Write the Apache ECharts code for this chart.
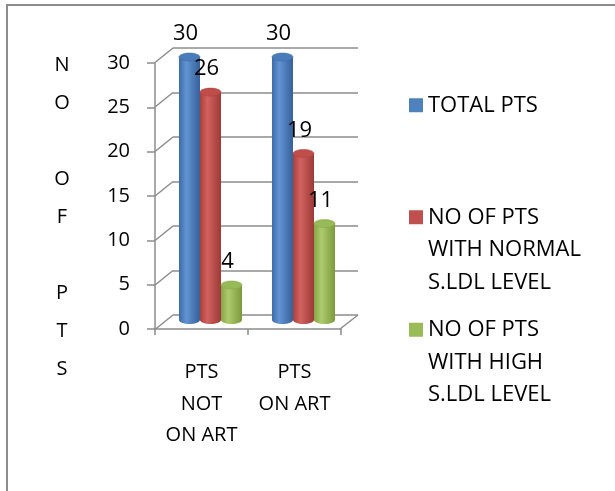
<!DOCTYPE html>
<html>
<head>
<meta charset="utf-8">
<script src="https://cdn.jsdelivr.net/npm/echarts@6/dist/echarts.min.js"></script>
<style>
  html, body { margin: 0; padding: 0; background: #fff; }
  #chart { width: 615px; height: 491px; }
</style>
</head>
<body>
<div id="chart"></div>
<script>
// data
const categories = ['PTS\nNOT\nON ART', 'PTS\nON ART'];
const seriesNames = ['TOTAL PTS', 'NO OF PTS\nWITH NORMAL\nS.LDL LEVEL', 'NO OF PTS\nWITH HIGH\nS.LDL LEVEL'];
const totalPts = [30, 30];
const normalLdl = [26, 19];
const highLdl = [4, 11];
const yTicks = [0, 5, 10, 15, 20, 25, 30];
const yTitle = ['N', 'O', '', 'O', 'F', '', 'P', 'T', 'S'];

const FONT = '"Open Sans", "Liberation Sans", sans-serif';
const WALL = '#8c8c8c';

const palettes = [
  { base: '#4f81bd', edge: '#3d6ba6', light: '#6393d2', dark: '#35609a', top: '#4a7cba' },
  { base: '#c0504d', edge: '#a8403d', light: '#d2625f', dark: '#9c3a37', top: '#bf4e4b' },
  { base: '#9bbb59', edge: '#86a548', light: '#aecb6c', dark: '#7a9a3c', top: '#98b957' }
];

// fake 3d cylinder, positioned from the bar grid scale
function cylinder(idx) {
  const pal = palettes[idx];
  return function (params, api) {
    const cat = api.value(0);
    const val = api.value(1);
    const top = api.coord([cat, val]);
    const base = api.coord([cat, 0]);
    const band = api.size([1, 0])[0];
    const w = band * 0.226;
    const cx = top[0] + (idx - 1) * w;
    const ry = 4;
    const grad = new echarts.graphic.LinearGradient(0, 0, 1, 0, [
      { offset: 0, color: pal.edge },
      { offset: 0.35, color: pal.light },
      { offset: 1, color: pal.dark }
    ]);
    return {
      type: 'group',
      children: [
        { type: 'ellipse', shape: { cx: cx, cy: base[1], rx: w / 2, ry: ry }, style: { fill: grad } },
        { type: 'rect', shape: { x: cx - w / 2, y: top[1], width: w, height: base[1] - top[1] }, style: { fill: grad } },
        { type: 'ellipse', shape: { cx: cx, cy: top[1], rx: w / 2, ry: ry }, style: { fill: pal.top, stroke: pal.edge, lineWidth: 0.5 } },
        {
          type: 'text', x: cx - 4, y: top[1] - 23,
          style: { text: String(val), fontSize: 22, fontFamily: FONT, fill: '#000', align: 'center', verticalAlign: 'middle' }
        }
      ]
    };
  };
}

// diagonal edges of the side wall and floor
function wallEdges(params, api) {
  const v = api.value(1);
  const p = api.coord([0, v]);
  const children = [
    { type: 'line', shape: { x1: p[0], y1: p[1], x2: p[0] - 18, y2: p[1] + 14.5 }, style: { stroke: WALL, lineWidth: 1.5 } }
  ];
  if (v === 0) {
    const q = api.coord([1, 0]);
    children.push({ type: 'line', shape: { x1: q[0], y1: q[1], x2: q[0] - 18, y2: q[1] + 14 }, style: { stroke: WALL, lineWidth: 1.5 } });
  }
  return { type: 'group', children: children };
}

// legend text is centred on the icon, so pad multi-line names with blank lines above
function legendFor(i, top) {
  return {
    data: [seriesNames[i]],
    orient: 'vertical',
    left: 409,
    top: top,
    padding: 0,
    icon: 'rect',
    itemWidth: 14,
    itemHeight: 14,
    selectedMode: false,
    formatter: function (name) {
      const n = name.split('\n').length;
      return '\n'.repeat(n - 1) + name;
    },
    textStyle: { fontSize: 22, fontFamily: FONT, color: '#000', lineHeight: 32.5 }
  };
}

const seriesData = [totalPts, normalLdl, highLdl];

const option = {
  animation: false,
  backgroundColor: '#fff',
  legend: [legendFor(0, 89), legendFor(1, 136), legendFor(2, 248.5)],
  grid: [
    { left: 155, top: 63, width: 186, height: 266, outerBoundsMode: 'none' },
    { left: 173, top: 48, width: 185, height: 267, outerBoundsMode: 'none' },
    { left: 164, top: 57, width: 186, height: 263, outerBoundsMode: 'none' }
  ],
  xAxis: [
    {
      gridIndex: 0, type: 'category', data: categories,
      axisLine: { show: true, lineStyle: { color: WALL, width: 1.5 } },
      axisTick: { show: true, length: 6, lineStyle: { color: WALL, width: 1.5 } },
      axisLabel: { margin: 28, fontSize: 20, lineHeight: 31.5, color: '#000', fontFamily: FONT, interval: 0 }
    },
    { gridIndex: 1, type: 'value', min: 0, max: 1, show: false },
    { gridIndex: 2, type: 'category', data: categories, show: false }
  ],
  yAxis: [
    {
      gridIndex: 0, type: 'value', min: 0, max: 30, interval: 5,
      splitLine: { show: false },
      axisLine: { show: true, lineStyle: { color: WALL, width: 1.5 } },
      axisTick: { show: true, length: 8, lineStyle: { color: WALL, width: 1.5 } },
      axisLabel: { margin: 25, fontSize: 20, color: '#000', fontFamily: FONT }
    },
    {
      gridIndex: 1, type: 'value', min: 0, max: 30, interval: 5,
      splitLine: { show: true, lineStyle: { color: WALL, width: 1.5 } },
      axisLine: { show: false }, axisTick: { show: false }, axisLabel: { show: false }
    },
    { gridIndex: 2, type: 'value', min: 0, max: 30, show: false }
  ],
  graphic: [
    {
      type: 'rect', silent: true,
      shape: { x: 7, y: 5, width: 700, height: 600 },
      style: { fill: 'none', stroke: '#8c8c8c', lineWidth: 2 }
    },
    {
      type: 'text', x: 62, y: 46, silent: true,
      style: {
        text: yTitle.join('\n'), fontSize: 20, fontFamily: FONT, fill: '#000',
        lineHeight: 38, align: 'center', verticalAlign: 'top'
      }
    }
  ],
  series: [
    {
      type: 'custom', xAxisIndex: 1, yAxisIndex: 1, silent: true, z: 1,
      data: yTicks.map(v => [0, v]),
      renderItem: wallEdges
    }
  ].concat(seriesData.map((vals, i) => ({
    type: 'custom',
    name: seriesNames[i],
    xAxisIndex: 2, yAxisIndex: 2, z: 3,
    itemStyle: { color: palettes[i].base },
    data: vals.map((v, j) => [j, v]),
    encode: { x: 0, y: 1 },
    renderItem: cylinder(i)
  })))
};

const chart = echarts.init(document.getElementById('chart'));
chart.setOption(option);
</script>
</body>
</html>
